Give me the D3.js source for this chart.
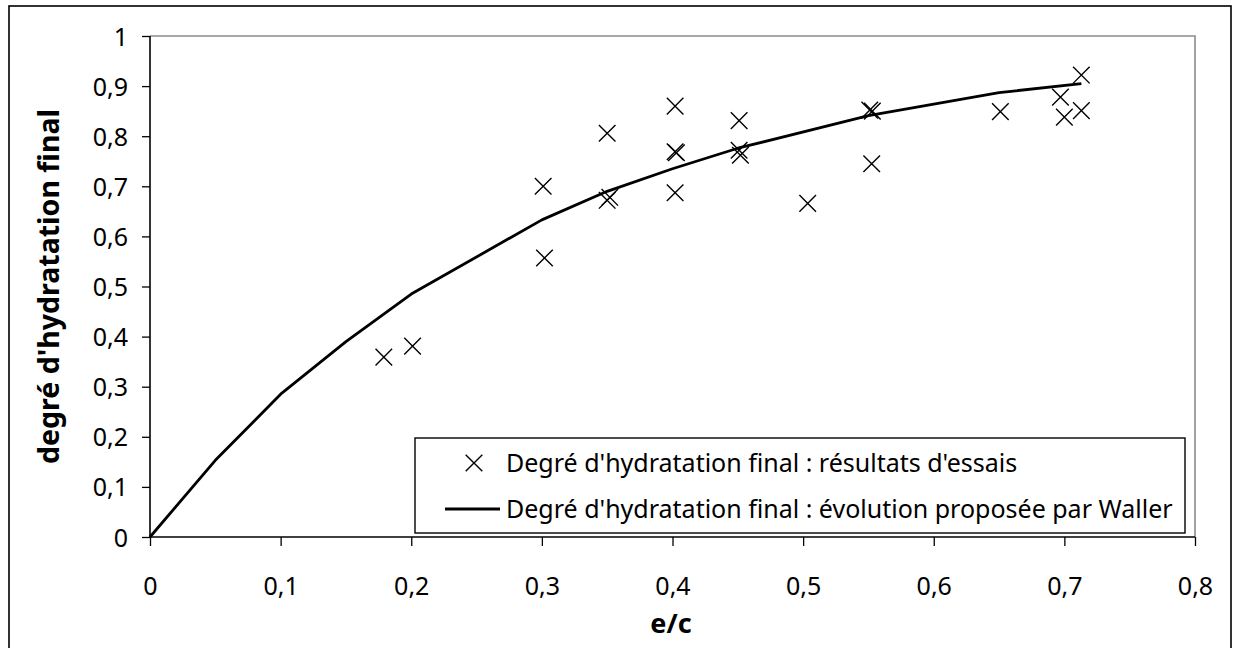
<!DOCTYPE html>
<html>
<head>
<meta charset="utf-8">
<script src="https://cdn.jsdelivr.net/npm/d3@7"></script>
<style>
  html, body { margin: 0; padding: 0; background: #fff; }
  svg { display: block; }
  text { font-family: "Noto Sans", "Open Sans", sans-serif; fill: #000; }
</style>
</head>
<body>
<svg id="chart" width="1234" height="648"></svg>
<script>
// ---- data ----
const essaisEC    = [0.179, 0.201, 0.301, 0.302, 0.350, 0.350, 0.352, 0.402, 0.402, 0.403, 0.402, 0.451, 0.451, 0.452, 0.5035, 0.551, 0.553, 0.5525, 0.651, 0.697, 0.700, 0.713, 0.713];
const essaisAlpha = [0.359, 0.381, 0.700, 0.557, 0.806, 0.672, 0.678, 0.860, 0.769, 0.767, 0.687, 0.831, 0.772, 0.762, 0.666, 0.852, 0.850, 0.745, 0.849, 0.878, 0.838, 0.922, 0.851];
const wallerEC    = [0, 0.05, 0.1, 0.15, 0.2, 0.3, 0.35, 0.4, 0.45, 0.55, 0.65, 0.713];
const wallerAlpha = [0, 0.153, 0.285, 0.390, 0.485, 0.633, 0.690, 0.735, 0.776, 0.841, 0.887, 0.905];
const xTicks = [0, 0.1, 0.2, 0.3, 0.4, 0.5, 0.6, 0.7, 0.8];
const yTicks = [0, 0.1, 0.2, 0.3, 0.4, 0.5, 0.6, 0.7, 0.8, 0.9, 1];
const legendLabels = ["Degré d'hydratation final : résultats d'essais",
                      "Degré d'hydratation final : évolution proposée par Waller"];
const xTitle = "e/c";
const yTitle = "degré d'hydratation final";

// ---- layout ----
const svg = d3.select("#chart");
const plot = { left: 150, right: 1195, top: 36, bottom: 537 };
const x = d3.scaleLinear().domain([0, 0.8]).range([plot.left, plot.right]);
const y = d3.scaleLinear().domain([0, 1]).range([plot.bottom, plot.top]);
const fmt = d => String(+d.toFixed(1)).replace(".", ",");
const REG = "Noto Sans", BOLD = "DejaVu Sans";

// outer chart border
svg.append("rect").attr("x", 9).attr("y", 6).attr("width", 1222).attr("height", 660)
  .attr("fill", "none").attr("stroke", "#000").attr("stroke-width", 1.6);

// plot area border (grey top/right)
svg.append("path")
  .attr("d", `M${plot.left},${plot.top}H${plot.right}V${plot.bottom}`)
  .attr("fill", "none").attr("stroke", "#8c8c8c").attr("stroke-width", 1.6);

// axes
const yAxis = d3.axisLeft(y).tickValues(yTicks).tickFormat(fmt).tickSize(8).tickPadding(14);
const xAxis = d3.axisBottom(x).tickValues(xTicks).tickFormat(fmt).tickSize(9).tickPadding(31);

const gy = svg.append("g").attr("transform", `translate(${plot.left},0)`).call(yAxis);
const gx = svg.append("g").attr("transform", `translate(0,${plot.bottom})`).call(xAxis);
[gx, gy].forEach(g => {
  g.select(".domain").attr("stroke", "#000").attr("stroke-width", 1.6);
  g.selectAll(".tick line").attr("stroke", "#000").attr("stroke-width", 1.3);
  g.selectAll(".tick text").attr("font-family", REG).attr("font-size", 25).attr("fill", "#000");
});
gy.select(".domain").attr("d", `M0,${plot.top}V${plot.bottom}`);
gx.select(".domain").attr("d", `M${plot.left},0H${plot.right}`);
gy.selectAll(".tick text").attr("dy", "0.36em");

// titles
svg.append("text").attr("x", 671).attr("y", 633)
  .attr("text-anchor", "middle").attr("font-family", BOLD).attr("font-weight", "bold")
  .attr("font-size", 27).text(xTitle);
svg.append("text").attr("transform", `translate(59,${(plot.top + plot.bottom) / 2}) rotate(-90)`)
  .attr("text-anchor", "middle").attr("font-family", BOLD).attr("font-weight", "bold")
  .attr("font-size", 28.5).text(yTitle);

// Waller line
const line = d3.line().x(d => x(d[0])).y(d => y(d[1]));
svg.append("path").datum(d3.zip(wallerEC, wallerAlpha))
  .attr("d", line).attr("fill", "none").attr("stroke", "#000").attr("stroke-width", 2.8)
  .attr("stroke-linejoin", "round");

// markers
const m = 8.3;
const crossPath = `M${-m},${-m}L${m},${m}M${-m},${m}L${m},${-m}`;
svg.append("g").selectAll("path").data(d3.zip(essaisEC, essaisAlpha)).join("path")
  .attr("transform", d => `translate(${x(d[0])},${y(d[1])})`)
  .attr("d", crossPath).attr("stroke", "#000").attr("stroke-width", 1.4).attr("fill", "none");

// legend
const lg = svg.append("g");
lg.append("rect").attr("x", 415).attr("y", 438).attr("width", 770).attr("height", 95)
  .attr("fill", "#fff").attr("stroke", "#000").attr("stroke-width", 1.4);
const rows = [463, 509];
lg.append("path").attr("transform", `translate(474,${rows[0]})`).attr("d", crossPath)
  .attr("stroke", "#000").attr("stroke-width", 1.4);
lg.append("line").attr("x1", 445).attr("x2", 500).attr("y1", rows[1]).attr("y2", rows[1])
  .attr("stroke", "#000").attr("stroke-width", 2.8);
legendLabels.forEach((t, i) => {
  lg.append("text").attr("x", 506).attr("y", rows[i] + 9)
    .attr("font-family", REG).attr("font-size", 25).text(t);
});
</script>
</body>
</html>
